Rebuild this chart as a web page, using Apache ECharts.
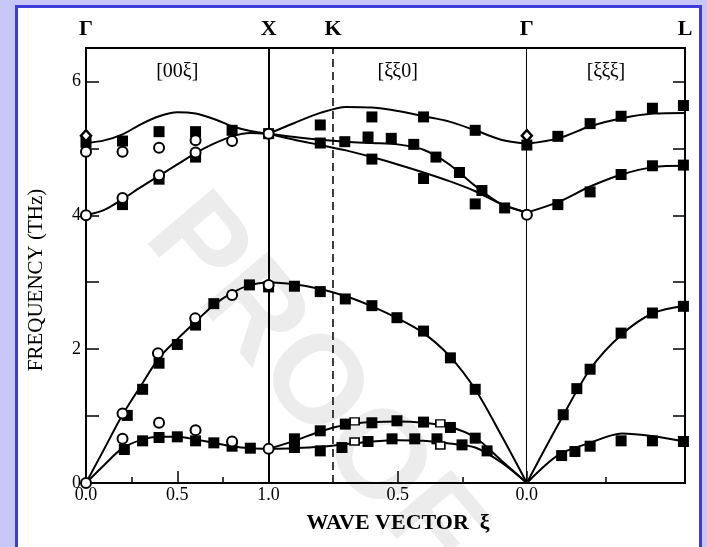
<!DOCTYPE html>
<html>
<head>
<meta charset="utf-8">
<script src="https://cdn.jsdelivr.net/npm/echarts@6/dist/echarts.min.js"></script>
<style>
  html, body { margin: 0; padding: 0; width: 707px; height: 547px; overflow: hidden; background: #c6c7f6; }
  #frame { position: absolute; left: 15px; top: 5px; width: 681px; height: 600px; background: #fff;
           border: 3px solid #3c3cd9; border-bottom: none; }
  #chart { position: absolute; left: 0; top: 0; width: 707px; height: 547px; }
</style>
</head>
<body>
<div id="frame"></div>
<div id="chart"></div>
<script>
// ---- Brillouin-zone path: Γ–X (along [00ξ]), X–K–Γ (along [ξξ0]), Γ–L (along [ξξξ]) ----
const S2 = Math.SQRT2, S3 = Math.sqrt(3);
const symLabels = ['Γ', 'X', 'K', 'Γ', 'L'];
const dirLabels = ['[00ξ]', '[ξξ0]', '[ξξξ]'];
const xTickText = ['0.0', '0.5', '1.0', '0.5', '0.0'];

// distance along the path (units of 2π/a) for reduced wave vector ξ in a segment
function pathPos(seg, xi) {
  if (seg === 0) return xi;
  if (seg === 1) return 1 + S2 * (1 - xi);
  return 1 + S2 + S3 * xi;
}
const symPos = [pathPos(0, 0), pathPos(0, 1), pathPos(1, 0.75), pathPos(1, 0), pathPos(2, 0.5)];

// ---- calculated dispersion curves (THz) ----
const xiGX = [0, 0.1, 0.2, 0.3, 0.4, 0.5, 0.6, 0.7, 0.8, 0.9, 1.0];
const GX_optHi = [5.08, 5.12, 5.21, 5.36, 5.48, 5.54, 5.52, 5.44, 5.33, 5.26, 5.22];
const GX_optLo = [4.00, 4.08, 4.24, 4.42, 4.59, 4.76, 4.93, 5.07, 5.18, 5.23, 5.22];
const GX_LA    = [0, 0.51, 1.02, 1.45, 1.87, 2.15, 2.41, 2.66, 2.84, 2.96, 3.00];
const GX_TA    = [0, 0.27, 0.52, 0.64, 0.69, 0.69, 0.65, 0.60, 0.55, 0.52, 0.51];

const xiXG = [1.0, 0.9, 0.8, 0.7, 0.6, 0.5, 0.4, 0.3, 0.2, 0.1, 0];
const XG_optHi  = [5.22, 5.38, 5.53, 5.62, 5.61, 5.56, 5.48, 5.40, 5.27, 5.13, 5.07];
const XG_optMid = [5.22, 5.17, 5.13, 5.10, 5.08, 5.06, 4.98, 4.76, 4.44, 4.17, 4.04];
const XG_optLo  = [5.22, 5.13, 5.05, 4.97, 4.87, 4.76, 4.64, 4.51, 4.36, 4.17, 4.04];
const XG_LA     = [3.00, 2.97, 2.90, 2.79, 2.64, 2.46, 2.24, 1.90, 1.40, 0.72, 0];
const XG_TA1    = [0.51, 0.63, 0.77, 0.87, 0.91, 0.92, 0.90, 0.84, 0.68, 0.34, 0];
const XG_TA2    = [0.51, 0.52, 0.54, 0.58, 0.62, 0.64, 0.63, 0.59, 0.53, 0.31, 0];

const xiGL = [0, 0.1, 0.2, 0.3, 0.4, 0.5];
const GL_optHi = [5.07, 5.15, 5.33, 5.45, 5.52, 5.53];
const GL_optLo = [4.04, 4.20, 4.43, 4.61, 4.72, 4.74];
const GL_LA    = [0, 0.88, 1.70, 2.22, 2.54, 2.65];
const GL_TA    = [0, 0.42, 0.60, 0.74, 0.70, 0.62];

// ---- measured frequencies [ξ, THz] ----
const filledGX = [
  [0, 5.09], [0.2, 5.11], [0.4, 5.25], [0.6, 5.25], [0.8, 5.27], [1.0, 5.22],
  [0.2, 4.16], [0.4, 4.54], [0.6, 4.87],
  [0.226, 1.01], [0.31, 1.40], [0.40, 1.79], [0.50, 2.07], [0.60, 2.36], [0.70, 2.68], [0.895, 2.96], [1.0, 2.93],
  [0.21, 0.50], [0.31, 0.63], [0.40, 0.68], [0.50, 0.69], [0.60, 0.63], [0.70, 0.60], [0.80, 0.55], [0.90, 0.52]
];
const filledXG = [
  [0.80, 5.35], [0.80, 5.08], [0.705, 5.10], [0.60, 5.47], [0.615, 5.17], [0.60, 4.84], [0.525, 5.15],
  [0.40, 5.47], [0.438, 5.06], [0.40, 4.55], [0.352, 4.87], [0.261, 4.64], [0.20, 5.27], [0.174, 4.37],
  [0.20, 4.17], [0.086, 4.11], [0, 5.05],
  [0.90, 2.94], [0.80, 2.86], [0.703, 2.75], [0.60, 2.65], [0.503, 2.47], [0.40, 2.27], [0.296, 1.87], [0.20, 1.40],
  [0.90, 0.66], [0.80, 0.78], [0.703, 0.88], [0.60, 0.90], [0.503, 0.93], [0.40, 0.91], [0.296, 0.83], [0.20, 0.67],
  [0.90, 0.53], [0.80, 0.48], [0.716, 0.53], [0.615, 0.62], [0.522, 0.66], [0.434, 0.66], [0.348, 0.66], [0.251, 0.57], [0.154, 0.48]
];
const filledGL = [
  [0.098, 5.18], [0.2, 5.37], [0.298, 5.48], [0.397, 5.60], [0.495, 5.64],
  [0.098, 4.16], [0.2, 4.35], [0.298, 4.61], [0.397, 4.74], [0.495, 4.75],
  [0.115, 1.02], [0.158, 1.41], [0.2, 1.70], [0.298, 2.24], [0.397, 2.54], [0.495, 2.64],
  [0.110, 0.41], [0.152, 0.47], [0.2, 0.55], [0.298, 0.63], [0.397, 0.63], [0.495, 0.62]
];
const openCircGX = [
  [0, 4.95], [0.2, 4.95], [0.4, 5.01], [0.6, 5.12], [0.8, 5.11], [1.0, 5.22],
  [0, 4.00], [0.2, 4.26], [0.4, 4.60], [0.6, 4.94],
  [0, 0], [0.2, 1.04], [0.394, 1.94], [0.598, 2.46], [0.8, 2.81], [1.0, 2.96],
  [0.2, 0.66], [0.4, 0.90], [0.6, 0.79], [0.8, 0.62], [1.0, 0.51]
];
const openCircXG = [[0, 4.01]];
const openSqXG = [[0.667, 0.92], [0.667, 0.62], [0.335, 0.89], [0.335, 0.56]];
const diamondGX = [[0, 5.19]];
const diamondXG = [[0, 5.19]];

// ---- build chart ----
const FONT = '"Liberation Serif", "DejaVu Serif", serif';
const toPath = (seg, arr) => arr.map(([xi, f]) => [pathPos(seg, xi), f]);
const myChart = echarts.init(document.getElementById('chart'), null, { renderer: 'canvas' });

const curves = [
  [0, xiGX, GX_optHi], [0, xiGX, GX_optLo], [0, xiGX, GX_LA], [0, xiGX, GX_TA],
  [1, xiXG, XG_optHi], [1, xiXG, XG_optMid], [1, xiXG, XG_optLo], [1, xiXG, XG_LA], [1, xiXG, XG_TA1], [1, xiXG, XG_TA2],
  [2, xiGL, GL_optHi], [2, xiGL, GL_optLo], [2, xiGL, GL_LA], [2, xiGL, GL_TA]
];

const series = curves.map(([seg, xs, ys]) => ({
  type: 'line', smooth: 0.3, symbol: 'none', silent: true, z: 3,
  lineStyle: { color: '#000', width: 2 },
  data: xs.map((xi, i) => [pathPos(seg, xi), ys[i]])
}));

// symmetry-point verticals
series.push({
  type: 'line', data: [], silent: true, z: 2,
  markLine: {
    symbol: 'none', silent: true, label: { show: false },
    data: [
      { xAxis: symPos[1], lineStyle: { color: '#000', width: 2, type: 'solid' } },
      { xAxis: symPos[2], lineStyle: { color: '#000', width: 1.5, type: [8, 5] } },
      { xAxis: symPos[3], lineStyle: { color: '#000', width: 1, type: 'solid' } }
    ]
  }
});

series.push({
  type: 'scatter', symbol: 'rect', symbolSize: 11, z: 4, silent: true,
  itemStyle: { color: '#000', opacity: 1 },
  data: [...toPath(0, filledGX), ...toPath(1, filledXG), ...toPath(2, filledGL)]
});
series.push({
  type: 'scatter', symbol: 'circle', symbolSize: 10, z: 5, silent: true,
  itemStyle: { color: '#fff', borderColor: '#000', borderWidth: 2, opacity: 1 },
  data: [...toPath(0, openCircGX), ...toPath(1, openCircXG)]
});
series.push({
  type: 'scatter', symbol: 'rect', symbolSize: [9, 7], z: 5, silent: true,
  itemStyle: { color: '#fff', borderColor: '#000', borderWidth: 1.5, opacity: 1 },
  data: toPath(1, openSqXG)
});
series.push({
  type: 'scatter', symbol: 'diamond', symbolSize: [10, 11], z: 5, silent: true,
  itemStyle: { color: '#fff', borderColor: '#000', borderWidth: 2.5, opacity: 1 },
  data: [...toPath(0, diamondGX), ...toPath(1, diamondXG)]
});

const majorTicks = [pathPos(0, 0), pathPos(0, 0.5), pathPos(0, 1), pathPos(1, 0.5), pathPos(1, 0)];
const minorTicks = [pathPos(0, 0.25), pathPos(0, 0.75), pathPos(1, 0.25), pathPos(2, 0.25)];
const xMax = symPos[4];

const option = {
  animation: false,
  backgroundColor: 'transparent',
  grid: { left: 86, right: 22, top: 48, bottom: 64 },
  xAxis: [
    {
      type: 'value', min: 0, max: xMax, position: 'bottom',
      axisLine: { onZero: false, lineStyle: { color: '#000', width: 2 } },
      axisTick: { inside: true, length: 12, customValues: majorTicks, lineStyle: { color: '#000', width: 1.5 } },
      axisLabel: {
        customValues: majorTicks, color: '#000', fontFamily: FONT, fontSize: 18, margin: 3,
        showMinLabel: true, showMaxLabel: true,
        formatter: v => { const i = majorTicks.findIndex(t => Math.abs(t - v) < 1e-6); return i < 0 ? '' : xTickText[i]; }
      },
      splitLine: { show: false }
    },
    {
      type: 'value', min: 0, max: xMax, position: 'bottom',
      axisLine: { show: false, onZero: false },
      axisTick: { inside: true, length: 6, customValues: minorTicks, lineStyle: { color: '#000', width: 1.5 } },
      axisLabel: { show: false },
      splitLine: { show: false }
    },
    {
      type: 'value', min: 0, max: xMax, position: 'top',
      axisLine: { onZero: false, lineStyle: { color: '#000', width: 2 } },
      axisTick: { show: false },
      axisLabel: {
        customValues: symPos, color: '#000', fontFamily: FONT, fontSize: 22, fontWeight: 'bold', margin: 8,
        showMinLabel: true, showMaxLabel: true, hideOverlap: false,
        formatter: v => { const i = symPos.findIndex(t => Math.abs(t - v) < 1e-6); return i < 0 ? '' : symLabels[i]; }
      },
      splitLine: { show: false }
    }
  ],
  yAxis: [
    {
      type: 'value', min: 0, max: 6.5, interval: 1, position: 'left',
      axisLine: { onZero: false, lineStyle: { color: '#000', width: 2 } },
      axisTick: { inside: true, length: 13, lineStyle: { color: '#000', width: 1.5 } },
      axisLabel: {
        color: '#000', fontFamily: FONT, fontSize: 18, margin: 5,
        formatter: v => (v % 2 === 0 ? String(v) : '')
      },
      splitLine: { show: false }
    },
    {
      type: 'value', min: 0, max: 6.5, interval: 1, position: 'right',
      axisLine: { onZero: false, lineStyle: { color: '#000', width: 2 } },
      axisTick: { inside: true, length: 12, lineStyle: { color: '#000', width: 1.5 } },
      axisLabel: { show: false },
      splitLine: { show: false }
    }
  ],
  graphic: [
    {
      id: 'watermark', type: 'text', x: 312, y: 385, z: -10, silent: true, rotation: -0.87,
      style: {
        text: 'PROOF', align: 'center', verticalAlign: 'middle',
        font: 'bold 125px "Liberation Sans", Arial, sans-serif', fill: '#ececec'
      }
    },
    {
      id: 'yTitle', type: 'text', x: 36, y: 280, rotation: Math.PI / 2, silent: true,
      style: {
        text: 'FREQUENCY (THz)', align: 'center', verticalAlign: 'middle',
        font: '21px ' + FONT, fill: '#000'
      }
    },
    {
      id: 'xTitle', type: 'text', x: 398, y: 523, silent: true,
      style: {
        text: 'WAVE VECTOR  ξ', align: 'center', verticalAlign: 'middle',
        font: 'bold 22px ' + FONT, fill: '#000'
      }
    }
  ],
  series: series
};

myChart.setOption(option);

// direction labels centred above each segment, placed through the axes' scales
const segMid = [(symPos[0] + symPos[1]) / 2, (symPos[1] + symPos[3]) / 2, (symPos[3] + symPos[4]) / 2];
const dirGraphics = segMid.map((m, i) => {
  const [px, py] = myChart.convertToPixel({ xAxisIndex: 0, yAxisIndex: 0 }, [m, 6.15]);
  return {
    id: 'dir' + i, type: 'text', x: px, y: py, silent: true, z: 10,
    style: { text: dirLabels[i], align: 'center', verticalAlign: 'middle', font: '20px ' + FONT, fill: '#000' }
  };
});
myChart.setOption({ graphic: option.graphic.concat(dirGraphics) });
</script>
</body>
</html>
